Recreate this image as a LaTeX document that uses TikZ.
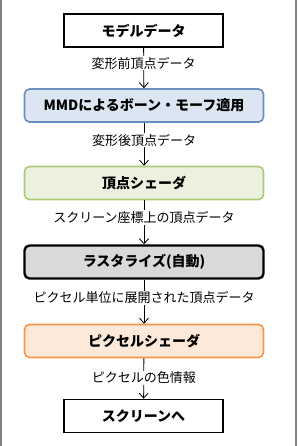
\documentclass[tikz,border=0pt]{standalone}
\usepackage{xcolor}
\usepackage{fontspec}
\usepackage{tikz}
\usetikzlibrary{arrows.meta,positioning}
\setmainfont{Noto Sans CJK JP}
\newfontfamily\jpfont{Noto Sans CJK JP}
\definecolor{boxblue}{RGB}{220,230,242}
\definecolor{lineblue}{RGB}{108,142,191}
\definecolor{boxgreen}{RGB}{235,241,222}
\definecolor{linegreen}{RGB}{170,200,120}
\definecolor{boxgray}{RGB}{217,217,217}
\definecolor{boxorange}{RGB}{253,233,217}
\definecolor{lineorange}{RGB}{247,150,70}
\definecolor{sidegray}{RGB}{128,128,128}

\begin{document}
\begin{tikzpicture}[
  x=1pt, y=-1pt,
  box/.style={draw, line width=1.6pt, align=center, minimum height=33pt, inner sep=2pt,
    font=\jpfont\bfseries\fontsize{14}{16}\selectfont},
  plain/.style={box, minimum width=159pt},
  stage/.style={box, rounded corners=5pt, minimum width=239pt},
  lbl/.style={fill=white, inner sep=1pt, font=\jpfont\fontsize{13}{15}\selectfont},
  flow/.style={line width=0.8pt, -{Straight Barb[length=5pt,width=9pt,line width=0.8pt]}},
  >={Straight Barb}
]
\useasboundingbox (0,0) rectangle (297,446);
% frame at the sides
\draw[sidegray, line width=2pt] (1,0) -- (1,446);
\draw[sidegray, line width=2pt] (296,0) -- (296,446);

% stages
\node[plain] (model) at (143.5,30.5) {モデルデータ};
\node[stage, fill=boxblue, draw=lineblue] (morph) at (144,105.5) {MMDによるボーン・モーフ適用};
\node[stage, fill=boxgreen, draw=linegreen] (vshader) at (144,183) {頂点シェーダ};
\node[stage, fill=boxgray, draw=black, line width=2.4pt] (raster) at (144,262) {ラスタライズ(自動)};
\node[stage, fill=boxorange, draw=lineorange] (pshader) at (144,341) {ピクセルシェーダ};
\node[plain] (screen) at (143.5,416) {スクリーンへ};

% data between stages
\draw[flow] (model) -- (morph) node[lbl, pos=0.38]{変形前頂点データ};
\draw[flow] (morph) -- (vshader) node[lbl, pos=0.41]{変形後頂点データ};
\draw[flow] (vshader) -- (raster) node[lbl, pos=0.39]{スクリーン座標上の頂点データ};
\draw[flow] (raster) -- (pshader) node[lbl, pos=0.41]{ピクセル単位に展開された頂点データ};
\draw[flow] (pshader) -- (screen) node[lbl, pos=0.48]{ピクセルの色情報};
\end{tikzpicture}
\end{document}
